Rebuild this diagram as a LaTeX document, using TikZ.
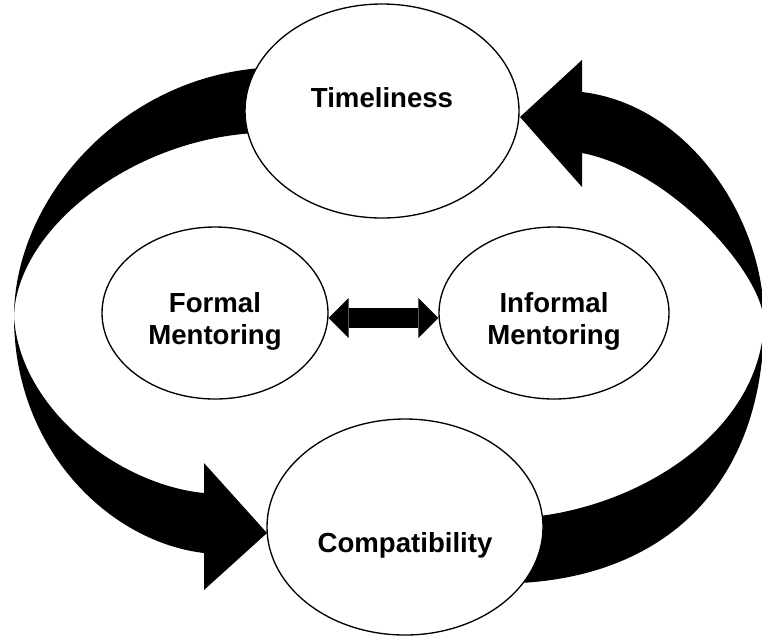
\documentclass[tikz,border=0pt]{standalone}
\usepackage{fontspec}
\setmainfont{Liberation Sans}
\usetikzlibrary{shapes.geometric,arrows.meta,calc}

\tikzset{every picture/.style={line width=0.75pt}}

\begin{document}
\begin{tikzpicture}[x=0.75pt,y=0.75pt,yscale=-1,xscale=1,
  bubble/.style={draw,ellipse,fill=white,line width=1pt,inner sep=0pt},
  lbl/.style={font=\bfseries\fontsize{20.7}{24}\selectfont,align=center,inner sep=0pt},
  twoway/.style={line width=15pt,{Triangle[length=15pt,width=30pt,line width=0pt]}-{Triangle[length=15pt,width=30pt,line width=0pt]}}]
%set diagram size 762 x 637
\path[use as bounding box,clip] (0,0) rectangle (762,637);

%Curved Arrow [left, Timeliness to Compatibility]
\fill (262,68) .. controls (120,78) and (14,200) .. (14,317)
  .. controls (14,450) and (110,542) .. (204,553)
  -- (204,590) -- (267,533) -- (204,463) -- (204,493)
  .. controls (120,485) and (20,410) .. (14,317)
  .. controls (16,230) and (130,140) .. (255,133) -- cycle ;
%Curved Arrow [right, Compatibility to Timeliness]
\fill (520,583) .. controls (670,575) and (764,480) .. (764,320)
  .. controls (764,220) and (690,105) .. (582,92)
  -- (582,60) -- (520,117) -- (582,187) -- (582,153)
  .. controls (670,170) and (760,270) .. (764,320)
  .. controls (762,430) and (640,510) .. (520,518) -- cycle ;

%Shape: Ellipse [Timeliness]
\node [bubble,minimum width=205.5pt,minimum height=160.5pt,label={[lbl,yshift=9.75pt]center:Timeliness}] (time) at (382,111) {};
%Shape: Ellipse [Formal Mentoring]
\node [bubble,minimum width=169.5pt,minimum height=129pt,label={[lbl,yshift=-6pt]center:Formal\\Mentoring}] (form) at (215,313) {};
%Shape: Ellipse [Informal Mentoring]
\node [bubble,minimum width=172.5pt,minimum height=129pt,label={[lbl,yshift=-6pt]center:Informal\\Mentoring}] (inform) at (554,313) {};
%Shape: Ellipse [Compatibility]
\node [bubble,minimum width=207pt,minimum height=162pt,label={[lbl,yshift=-14pt]center:Compatibility}] (compat) at (405,527) {};

%Double Arrow
\draw [twoway] ($(form.east)+(0,5)$) -- ($(inform.west)+(0,5)$) ;

\end{tikzpicture}
\end{document}
